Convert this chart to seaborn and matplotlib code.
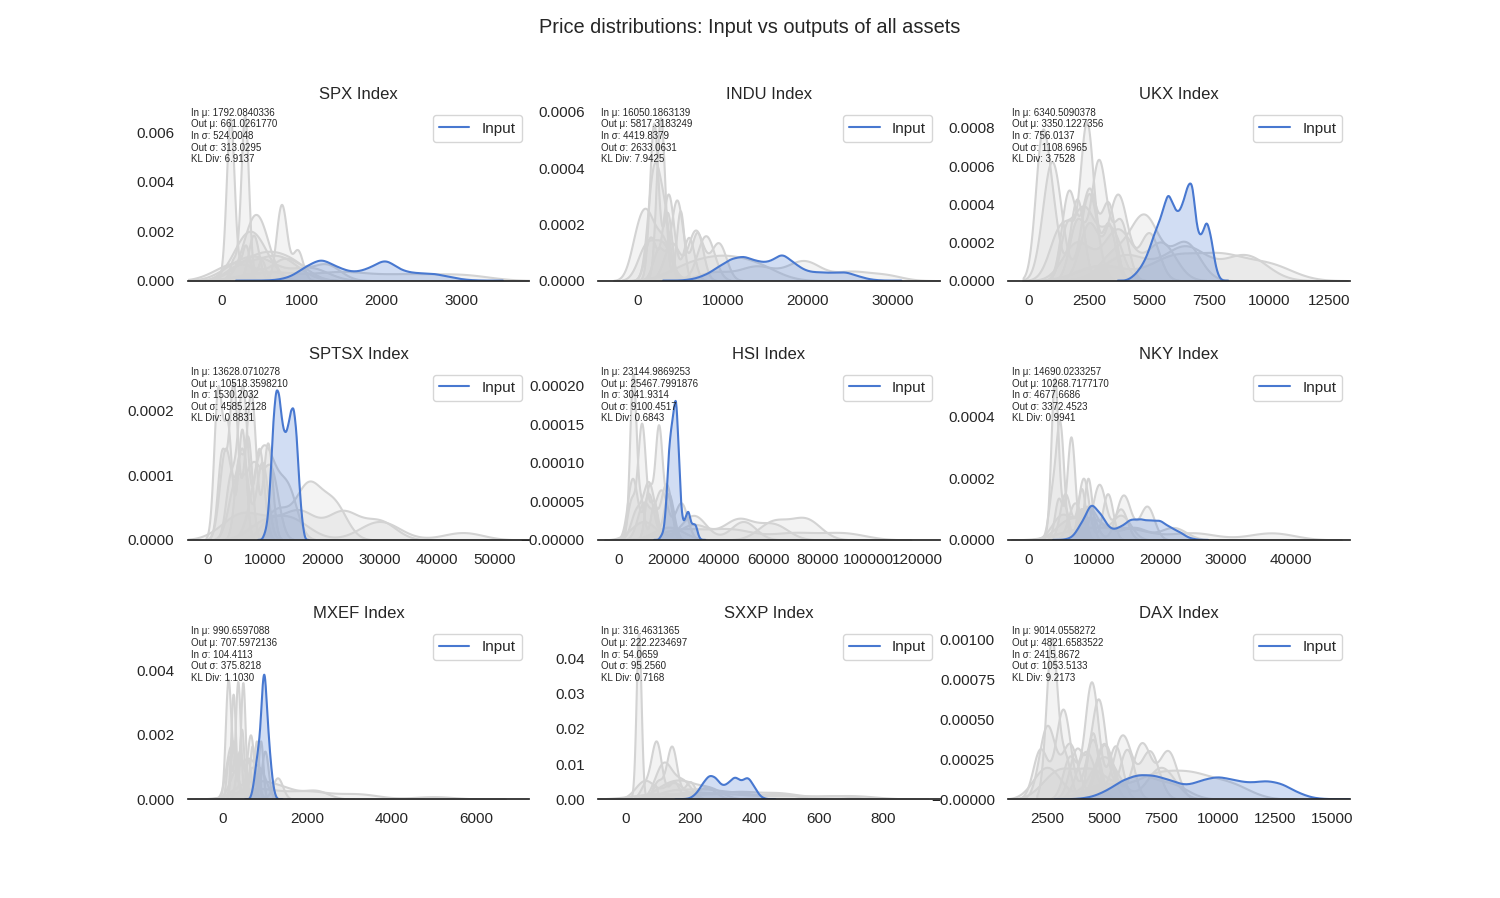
import numpy as np
import matplotlib
matplotlib.use("Agg")
import matplotlib.pyplot as plt
import seaborn as sns

# ---------------------------------------------------------------- data
ASSETS = ["SPX Index", "INDU Index", "UKX Index",
          "SPTSX Index", "HSI Index", "NKY Index",
          "MXEF Index", "SXXP Index", "DAX Index"]

IN_MU = [1792.0840336, 16050.1863139, 6340.5090378,
         13628.0710278, 23144.9869253, 14690.0233257,
         990.6597088, 316.4631365, 9014.0558272]
OUT_MU = [661.0261770, 5817.3183249, 3350.1227356,
          10518.3598210, 25467.7991876, 10268.7177170,
          707.5972136, 222.2234697, 4821.6583522]
IN_SIGMA = [524.0048, 4419.8379, 756.0137,
            1530.2032, 3041.9314, 4677.6686,
            104.4113, 54.0659, 2415.8672]
OUT_SIGMA = [313.0295, 2633.0631, 1108.6965,
             4585.2128, 9100.4517, 3372.4523,
             375.8218, 95.2560, 1053.5133]
KL_DIV = [6.9137, 7.9425, 3.7528, 0.8831, 0.6843, 0.9941, 1.1030, 0.7168, 9.2173]

# Input series: representative price levels, their weights and KDE bandwidth
spx_in_x = [650, 850, 1050, 1250, 1450, 1650, 1850, 2050, 2250, 2450, 2650, 2850, 3050]
spx_in_w = [.002, .024, .115, .19, .11, .065, .10, .19, .08, .06, .06, .03, .006]
spx_in_bw = 115
indu_in_x = [6500, 8000, 9500, 11000, 12500, 14000, 15500, 17000, 18500, 20000, 21500, 23000, 24500, 26000, 27500]
indu_in_w = [.0075, .03, .075, .12, .135, .105, .0975, .155, .09, .048, .045, .042, .048, .0225, .0045]
indu_in_bw = 850
ukx_in_x = [4200, 4400, 4600, 4800, 5000, 5200, 5400, 5600, 5800, 6000,
            6200, 6400, 6600, 6800, 7000, 7200, 7400, 7600, 7800]
ukx_in_w = [.002, .006, .012, .02, .032, .048, .06, .076, .095, .08,
            .07, .08, .10, .11, .05, .045, .068, .045, .01]
ukx_in_bw = 120
sptsx_in_x = [10000, 10500, 11000, 11500, 12000, 12500, 13000, 13500, 14000, 14500, 15000, 15500, 16000, 16500]
sptsx_in_w = [.005, .015, .05, .10, .125, .12, .095, .085, .09, .105, .11, .09, .045, .015]
sptsx_in_bw = 300
hsi_in_x = [17000, 18000, 19000, 20000, 21000, 22000, 23000, 24000, 25000, 26000, 27000, 28000, 29000, 30000, 31000, 32000]
hsi_in_w = [.005, .01, .04, .11, .14, .16, .19, .12, .04, .02, .03, .04, .02, .02, .02, .005]
hsi_in_bw = 600
nky_in_x = [6500, 8000, 9500, 11000, 12500, 14000, 15500, 17000, 18500, 20000, 21500, 23000, 24500]
nky_in_w = [.0075, .075, .18, .12, .045, .06, .0975, .0975, .09, .093, .06, .0375, .0075]
nky_in_bw = 800
mxef_in_x = [700, 750, 800, 850, 900, 950, 1000, 1050, 1100, 1150, 1200, 1250]
mxef_in_w = [.01, .03, .06, .08, .11, .19, .21, .14, .09, .05, .02, .005]
mxef_in_bw = 35
sxxp_in_x = [200, 220, 240, 260, 280, 300, 320, 340, 360, 380, 400, 420]
sxxp_in_w = [.004, .03, .09, .14, .126, .07, .09, .136, .094, .136, .07, .01]
sxxp_in_bw = 12
dax_in_x = [4400, 5100, 5800, 6500, 7200, 7900, 8600, 9300, 10000, 10700, 11400, 12100, 12800, 13500, 14200]
dax_in_w = [.007, .035, .084, .1085, .105, .084, .056, .084, .1015, .084, .07, .0826, .07, .028, .0035]
dax_in_bw = 420

# Output series: (price levels, weights, bandwidth) for each generated output
spx_out = [
    ([110, 300], [.82, .18], 50),
    ([150, 290, 500], [.1, .8, .1], 48),
    ([400, 750, 950], [.3, .5, .2], 65),
    ([380, 480], [.5, .5], 140),
    ([300, 420], [.5, .5], 190),
    ([300, 600, 900], [.3, .4, .3], 200),
    ([200, 500, 1100], [.3, .4, .3], 230),
    ([600, 1500, 2300, 3000], [.3, .3, .2, .2], 350),
    ([150, 700], [.4, .6], 250),
    ([250, 800, 1300], [.3, .4, .3], 180),
]
indu_out = [
    ([2500, 2900, 5000], [.38, .34, .28], 450),
    ([1900, 3500], [.7, .3], 500),
    ([1500, 3600, 6000], [.25, .5, .25], 650),
    ([2500, 4600, 7000], [.2, .5, .3], 700),
    ([4000, 6800, 9500], [.3, .4, .3], 900),
    ([1000, 3000, 8000], [.3, .3, .4], 1000),
    ([9000, 14000, 19500, 25000, 29000], [.15, .25, .35, .15, .1], 2000),
    ([6000, 10000, 14000], [.3, .4, .3], 2500),
    ([1500, 2200, 3200], [.3, .4, .3], 600),
    ([0, 1200, 3000], [.3, .4, .3], 900),
]
ukx_out = [
    ([530, 1000, 2000], [.5, .2, .3], 280),
    ([1600, 2400, 3300], [.21, .58, .21], 280),
    ([2000, 2900, 3800], [.25, .5, .25], 320),
    ([1650, 2500, 3300], [.35, .35, .3], 300),
    ([2500, 3700, 5000], [.3, .45, .25], 400),
    ([3500, 4800, 6500], [.2, .5, .3], 600),
    ([1300, 2300, 3400], [.3, .4, .3], 450),
    ([3000, 6000, 8000, 10000], [.2, .3, .3, .2], 1000),
    ([4000, 6500, 9000], [.3, .4, .3], 900),
    ([2000, 3700, 5500], [.3, .4, .3], 600),
    ([800, 1100, 2500], [.3, .3, .4], 350),
]
sptsx_out = [
    ([1800, 3500, 6000], [.4, .3, .3], 700),
    ([2500, 4500, 7000], [.25, .45, .3], 750),
    ([4000, 6100, 9000], [.2, .5, .3], 850),
    ([5500, 7600, 10500], [.25, .45, .3], 800),
    ([3100, 6000, 9500], [.35, .35, .3], 1000),
    ([5000, 8000, 11000], [.3, .35, .35], 1300),
    ([9000, 11000, 14000], [.4, .3, .3], 1600),
    ([12000, 17500, 22000], [.25, .45, .3], 2200),
    ([10000, 16000, 23500, 30000], [.2, .3, .3, .2], 2800),
    ([6000, 14000, 30000, 44500], [.35, .3, .25, .1], 3500),
]
hsi_out = [
    ([5700, 9000, 14000], [.7, .15, .15], 1300),
    ([5000, 9200, 14000], [.2, .6, .2], 1600),
    ([12000, 16000, 20000], [.25, .55, .2], 1500),
    ([5500, 12000, 20000], [.4, .3, .3], 2000),
    ([7000, 12000, 19000], [.2, .4, .4], 2200),
    ([10000, 17000, 25000], [.3, .4, .3], 2500),
    ([30000, 48000, 62000], [.3, .4, .3], 6000),
    ([20000, 62000, 75000], [.25, .35, .4], 6000),
    ([25000, 45000, 70000, 90000], [.3, .3, .2, .2], 9000),
    ([10000, 30000, 50000], [.3, .4, .3], 5000),
]
nky_out = [
    ([3900, 5500, 8000], [.72, .14, .14], 550),
    ([3500, 4700, 8000], [.2, .55, .25], 600),
    ([4500, 6400, 9000], [.2, .5, .3], 600),
    ([5500, 8300, 12000], [.3, .4, .3], 800),
    ([7000, 10700, 14000], [.3, .45, .25], 1000),
    ([9000, 14400, 18000], [.3, .4, .3], 1100),
    ([6000, 10000, 16000, 22000], [.3, .3, .2, .2], 2000),
    ([8000, 15000, 25000, 37000], [.3, .3, .2, .2], 3500),
    ([5000, 9000, 14000], [.3, .4, .3], 1500),
]
mxef_out = [
    ([130, 300, 600], [.6, .2, .2], 65),
    ([150, 360, 700], [.2, .55, .25], 60),
    ([250, 480, 800], [.25, .5, .25], 55),
    ([250, 450, 900], [.45, .3, .25], 55),
    ([400, 660, 1000], [.3, .4, .3], 80),
    ([300, 600, 900], [.3, .4, .3], 150),
    ([500, 1000, 1500, 2200], [.3, .3, .2, .2], 300),
    ([800, 2000, 3200, 5000], [.4, .3, .2, .1], 500),
    ([200, 700, 1300], [.5, .3, .2], 120),
]
sxxp_out = [
    ([40, 90], [.92, .08], 7.8),
    ([60, 95, 150], [.15, .65, .2], 16),
    ([100, 143, 200], [.2, .6, .2], 16),
    ([110, 130, 180], [.4, .3, .3], 25),
    ([120, 180, 260], [.3, .4, .3], 40),
    ([150, 250, 350, 480], [.3, .3, .2, .2], 50),
    ([200, 350, 480, 650], [.3, .3, .25, .15], 60),
    ([100, 300, 500, 700], [.3, .3, .2, .2], 80),
    ([60, 150, 250], [.4, .35, .25], 30),
]
dax_out = [
    ([2700, 3300, 4500], [.6, .15, .25], 240),
    ([2200, 3200, 4500], [.25, .45, .3], 320),
    ([2500, 3500, 5000], [.4, .3, .3], 350),
    ([3500, 4450, 5500], [.2, .55, .25], 300),
    ([3800, 4750, 6000], [.25, .5, .25], 320),
    ([4200, 5800, 7000], [.3, .4, .3], 400),
    ([5000, 6650, 7800], [.35, .35, .3], 400),
    ([5000, 7200, 8800, 10500], [.2, .3, .3, .2], 900),
    ([3000, 4500, 6500, 8000], [.3, .3, .25, .15], 700),
    ([2500, 5000, 7500], [.3, .4, .3], 600),
]

INPUTS = [(spx_in_x, spx_in_w, spx_in_bw), (indu_in_x, indu_in_w, indu_in_bw),
          (ukx_in_x, ukx_in_w, ukx_in_bw), (sptsx_in_x, sptsx_in_w, sptsx_in_bw),
          (hsi_in_x, hsi_in_w, hsi_in_bw), (nky_in_x, nky_in_w, nky_in_bw),
          (mxef_in_x, mxef_in_w, mxef_in_bw), (sxxp_in_x, sxxp_in_w, sxxp_in_bw),
          (dax_in_x, dax_in_w, dax_in_bw)]
OUTPUTS = [spx_out, indu_out, ukx_out, sptsx_out, hsi_out, nky_out, mxef_out, sxxp_out, dax_out]

X_TICKS = [[0, 1000, 2000, 3000],
           [0, 10000, 20000, 30000],
           [0, 2500, 5000, 7500, 10000, 12500],
           [0, 10000, 20000, 30000, 40000, 50000],
           [0, 20000, 40000, 60000, 80000, 100000, 120000],
           [0, 10000, 20000, 30000, 40000],
           [0, 2000, 4000, 6000],
           [0, 200, 400, 600, 800],
           [2500, 5000, 7500, 10000, 12500, 15000]]
Y_TICKS = [[0, 0.002, 0.004, 0.006],
           [0, 0.0002, 0.0004, 0.0006],
           [0, 0.0002, 0.0004, 0.0006, 0.0008],
           [0, 0.0001, 0.0002],
           [0, 0.00005, 0.0001, 0.00015, 0.0002],
           [0, 0.0002, 0.0004],
           [0, 0.002, 0.004],
           [0, 0.01, 0.02, 0.03, 0.04],
           [0, 0.00025, 0.0005, 0.00075, 0.001]]
Y_TICK_LABELS = [["0.000", "0.002", "0.004", "0.006"],
                 ["0.0000", "0.0002", "0.0004", "0.0006"],
                 ["0.0000", "0.0002", "0.0004", "0.0006", "0.0008"],
                 ["0.0000", "0.0001", "0.0002"],
                 ["\u22120.00000", "0.00005", "0.00010", "0.00015", "0.00020"],
                 ["0.0000", "0.0002", "0.0004"],
                 ["0.000", "0.002", "0.004"],
                 ["0.00", "0.01", "0.02", "0.03", "0.04"],
                 ["\u22120.00000", "0.00025", "0.00050", "0.00075", "0.00100"]]
X_LIMS = [(-425, 3850), (-4690, 35520), (-875, 13375),
          (-3480, 56100), (-8400, 128800), (-3200, 49000),
          (-830, 7260), (-87, 977), (790, 15790)]
Y_TOPS = [0.00698, 0.000614, 0.000905, 0.000267, 0.0002245, 0.000559, 0.005375, 0.0491, 0.00108]

# ---------------------------------------------------------------- style
sns.set_theme(style="white", palette="muted")
plt.rcParams["font.family"] = ["Liberation Sans", "DejaVu Sans"]
BLUE = sns.color_palette("muted")[0]
GRAY = "lightgray"


def draw_kde(ax, xs, ws, bw, color, fill, lw=1.5, label=None):
    xs = np.asarray(xs, dtype=float)
    ws = np.asarray(ws, dtype=float)
    sd = float(np.sqrt(np.cov(xs, aweights=ws)))
    sns.kdeplot(x=xs, weights=ws, bw_method=bw / sd, fill=fill, color=color,
                linewidth=lw, label=label, ax=ax)


fig, axes = plt.subplots(3, 3, figsize=(15, 8.98), dpi=100)
fig.subplots_adjust(hspace=0.5, wspace=0.2)

for i, ax in enumerate(axes.flat):
    for xs, ws, bw in OUTPUTS[i]:
        draw_kde(ax, xs, ws, bw, GRAY, fill=True)
    ix, iw, ibw = INPUTS[i]
    draw_kde(ax, ix, iw, ibw, BLUE, fill=True, lw=0)
    draw_kde(ax, ix, iw, ibw, BLUE, fill=False, label="Input")

    ax.set_title(ASSETS[i], fontsize=12)
    ax.set_xlabel("")
    ax.set_ylabel("")
    ax.set_xlim(*X_LIMS[i])
    ax.set_ylim(0, Y_TOPS[i])
    ax.set_xticks(X_TICKS[i])
    ax.set_xticklabels([str(t) for t in X_TICKS[i]])
    ax.set_yticks(Y_TICKS[i])
    ax.set_yticklabels(Y_TICK_LABELS[i])
    ax.legend(loc="upper right", fontsize=11)

    txt = (f"In \u03bc: {IN_MU[i]:.7f}\nOut \u03bc: {OUT_MU[i]:.7f}\n"
           f"In \u03c3: {IN_SIGMA[i]:.4f}\nOut \u03c3: {OUT_SIGMA[i]:.4f}\n"
           f"KL Div: {KL_DIV[i]:.4f}")
    ax.text(0.01, 1.0, txt, transform=ax.transAxes, fontsize=7,
            va="top", ha="left")

sns.despine(fig=fig, left=True)
fig.suptitle("Price distributions: Input vs outputs of all assets")
fig.savefig("out.png", dpi=100)
